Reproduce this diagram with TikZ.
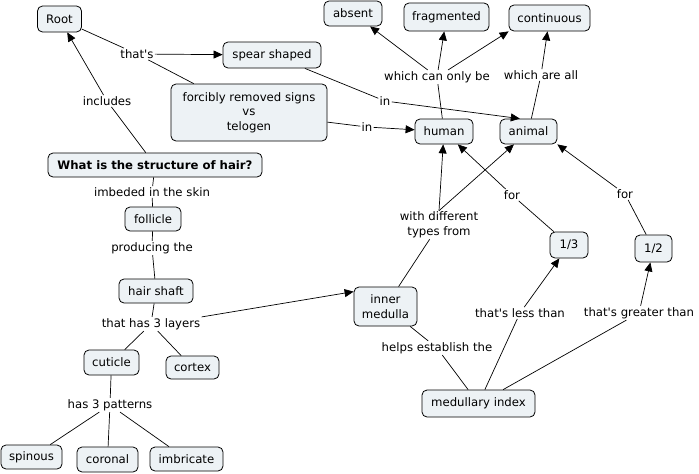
\documentclass[tikz,border=0pt]{standalone}
\usepackage{fontspec}
\setmainfont{DejaVu Sans}
\usetikzlibrary{arrows.meta}
\definecolor{conceptfill}{RGB}{237,242,245}
\begin{document}
\begin{tikzpicture}[x=1pt,y=-1pt,
  every node/.style={font=\fontsize{11.7}{14.5}\selectfont},
  concept/.style={draw=black,line width=0.8pt,fill=conceptfill,rounded corners=5pt,align=center,inner sep=0pt},
  lbl/.style={inner sep=1.2pt,align=center},
  link/.style={line width=0.7pt,draw=black},
  arr/.style={link,-{Triangle[length=9pt,width=8pt]}}]
\useasboundingbox[fill=white] (0,0) rectangle (699,474);
% concepts
\node[concept,minimum width=44pt,minimum height=26pt] (root) at (59.5,19) {Root};
\node[concept,minimum width=98pt,minimum height=26pt] (spear) at (272,55) {spear shaped};
\node[concept,minimum width=156pt,minimum height=57pt] (forc) at (249,112.5) {forcibly removed signs\\vs\\telogen};
\node[concept,minimum width=214pt,minimum height=24pt,font=\fontsize{11.7}{14.5}\selectfont\bfseries] (what) at (155,165) {What is the structure of hair?};
\node[concept,minimum width=58pt,minimum height=25pt] (absent) at (353,13.5) {absent};
\node[concept,minimum width=85pt,minimum height=28pt] (frag) at (446.5,17) {fragmented};
\node[concept,minimum width=81pt,minimum height=26pt] (cont) at (549.5,18) {continuous};
\node[concept,minimum width=58pt,minimum height=25pt] (human) at (444,131.5) {human};
\node[concept,minimum width=57pt,minimum height=25pt] (animal) at (528.5,131.5) {animal};
\node[concept,minimum width=56pt,minimum height=24pt] (follicle) at (153,219) {follicle};
\node[concept,minimum width=74pt,minimum height=24pt] (shaft) at (156,291) {hair shaft};
\node[concept,minimum width=55pt,minimum height=25pt] (cuticle) at (111.5,362.5) {cuticle};
\node[concept,minimum width=53pt,minimum height=23pt] (cortex) at (192.5,367.5) {cortex};
\node[concept,minimum width=61pt,minimum height=24pt] (spinous) at (31.5,457) {spinous};
\node[concept,minimum width=61pt,minimum height=25pt] (coronal) at (107.5,459.5) {coronal};
\node[concept,minimum width=73pt,minimum height=24pt] (imbricate) at (186.5,459) {imbricate};
\node[concept,minimum width=63pt,minimum height=39pt] (medulla) at (385.5,306.5) {inner\\medulla};
\node[concept,minimum width=38pt,minimum height=26pt] (third) at (569,245) {1/3};
\node[concept,minimum width=37pt,minimum height=27pt] (half) at (653.5,248.5) {1/2};
\node[concept,minimum width=113pt,minimum height=27pt] (index) at (478.5,403.5) {medullary index};
% linking phrases
\node[lbl] (thats) at (137,54) {that\textquotesingle s};
\node[lbl] (includes) at (107,101) {includes};
\node[lbl] (imbeded) at (152,192) {imbeded in the skin};
\node[lbl] (producing) at (152,248) {producing the};
\node[lbl] (layers) at (151,324) {that has 3 layers};
\node[lbl] (patterns) at (110,405) {has 3 patterns};
\node[lbl] (canonly) at (437,77) {which can only be};
\node[lbl] (areall) at (541,75) {which are all};
\node[lbl] (inA) at (385,101) {in};
\node[lbl] (inB) at (367,127) {in};
\node[lbl] (forA) at (512,195) {for};
\node[lbl] (forB) at (625,194) {for};
\node[lbl] (withdiff) at (439,225) {with different\\types from};
\node[lbl] (less) at (520,313) {that\textquotesingle s less than};
\node[lbl] (greater) at (639,313) {that\textquotesingle s greater than};
\node[lbl] (helps) at (437,348) {helps establish the};
% connectors
\draw[link] (what) -- (includes);
\draw[arr] (includes) -- (root);
\draw[link] (root) -- (thats);
\draw[link] (forc) -- (thats);
\draw[arr] (thats) -- (spear);
\draw[link] (spear) -- (inA);
\draw[arr] (inA) -- (animal.124);
\draw[link] (forc) -- (inB);
\draw[arr] (inB) -- (human);
\draw[link] (human) -- (canonly);
\draw[arr] (canonly) -- (absent);
\draw[arr] (canonly) -- (frag);
\draw[arr] (canonly) -- (cont.south west);
\draw[link] (animal) -- (areall);
\draw[arr] (areall) -- (cont);
\draw[link] (what) -- (imbeded);
\draw[link] (imbeded) -- (follicle);
\draw[link] (follicle) -- (producing);
\draw[link] (producing) -- (shaft);
\draw[link] (shaft) -- (layers);
\draw[link] (layers) -- (cuticle);
\draw[link] (layers) -- (cortex);
\draw[arr] (layers.north east) -- (medulla.155);
\draw[link] (cuticle) -- (patterns);
\draw[link] (patterns) -- (spinous);
\draw[link] (patterns) -- (coronal);
\draw[link] (patterns) -- (imbricate);
\draw[link] (medulla) -- (withdiff);
\draw[arr] (withdiff.north) -- (human);
\draw[arr] (withdiff.north) -- (animal);
\draw[link] (medulla) -- (helps);
\draw[link] (helps) -- (index);
\draw[link] (index) -- (less);
\draw[arr] (less) -- (third);
\draw[link] (third) -- (forA);
\draw[arr] (forA) -- (human);
\draw[link] (index) -- (greater);
\draw[arr] (greater) -- (half);
\draw[link] (half) -- (forB);
\draw[arr] (forB) -- (animal.south east);
\end{tikzpicture}
\end{document}
